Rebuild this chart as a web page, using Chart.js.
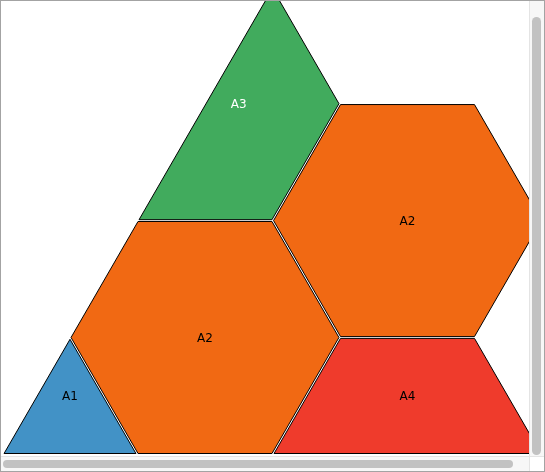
<!DOCTYPE html>
<html>
<head>
<meta charset="utf-8">
<script src="https://cdn.jsdelivr.net/npm/chart.js@4/dist/chart.umd.min.js"></script>
<style>
html, body { margin: 0; padding: 0; background: #fff; }
#frame { position: relative; width: 545px; height: 472px; box-sizing: border-box; border: 1px solid #a3a3a3; overflow: hidden; }
#plot { position: absolute; left: 0; top: 0; width: 528px; height: 455px; }
.vbar { position: absolute; left: 528px; top: 0; width: 15px; height: 455px; background: #f7f7f7; border-left: 1px solid #e4e4e4; box-sizing: border-box; }
.vthumb { position: absolute; left: 2px; top: 16px; width: 9px; height: 438px; border-radius: 5px; background: #c2c2c2; }
.hbar { position: absolute; left: 0; top: 455px; width: 528px; height: 15px; background: #f7f7f7; border-top: 1px solid #e4e4e4; box-sizing: border-box; }
.hthumb { position: absolute; left: 2px; top: 3px; width: 510px; height: 8px; border-radius: 4px; background: #c2c2c2; }
.corner { position: absolute; left: 528px; top: 455px; width: 15px; height: 15px; background: #fff; border-left: 1px solid #e4e4e4; border-top: 1px solid #e4e4e4; box-sizing: border-box; }
</style>
</head>
<body>
<div id="frame">
  <canvas id="plot" width="528" height="455"></canvas>
  <div class="vbar"><div class="vthumb"></div></div>
  <div class="hbar"><div class="hthumb"></div></div>
  <div class="corner"></div>
</div>
<script>
// categories of the hex cells
var categories = ['A1', 'A2', 'A3', 'A4'];
var categoryColors = ['#4292c6', '#f16913', '#41ab5d', '#ef3b2c'];
var labelColors = ['#000000', '#000000', '#ffffff', '#000000'];

// visible cells: category, hex column and half-row in the grid
var cellCategory = ['A1', 'A2', 'A2', 'A3', 'A4'];
var cellCol = [0, 1, 2, 1, 2];
var cellRow = [0, 1, 2, 3, 0];

// ternary triangle side, in hex sides
var triangleSide = 6;

var R3 = Math.sqrt(3);
var pxPerUnit = 135;
var gap = 0.9 / pxPerUnit; // small inset so neighbouring outlines stay apart

function hexagon(cx, cy) {
  var pts = [];
  for (var i = 0; i < 6; i++) {
    var a = Math.PI / 3 * i;
    pts.push({x: cx + Math.cos(a), y: cy + Math.sin(a)});
  }
  return pts;
}

function side(a, b, p) {
  return (b.x - a.x) * (p.y - a.y) - (b.y - a.y) * (p.x - a.x);
}

// keep the part of poly left of a->b
function clipEdge(poly, a, b) {
  var out = [];
  for (var i = 0; i < poly.length; i++) {
    var p = poly[i], q = poly[(i + 1) % poly.length];
    var sp = side(a, b, p), sq = side(a, b, q);
    if (Math.abs(sp) < 1e-9) sp = 0;
    if (Math.abs(sq) < 1e-9) sq = 0;
    if (sp >= 0) out.push(p);
    if ((sp > 0 && sq < 0) || (sp < 0 && sq > 0)) {
      var t = sp / (sp - sq);
      out.push({x: p.x + t * (q.x - p.x), y: p.y + t * (q.y - p.y)});
    }
  }
  return out;
}

// move every edge of a ccw convex polygon inwards by d
function inset(poly, d) {
  var pts = poly.filter(function (p, i) {
    var q = poly[(i + 1) % poly.length];
    return Math.hypot(q.x - p.x, q.y - p.y) > 1e-6;
  });
  var lines = pts.map(function (p, i) {
    var q = pts[(i + 1) % pts.length];
    var len = Math.hypot(q.x - p.x, q.y - p.y);
    var nx = -(q.y - p.y) / len, ny = (q.x - p.x) / len;
    return {x: p.x + nx * d, y: p.y + ny * d, dx: q.x - p.x, dy: q.y - p.y};
  });
  return lines.map(function (l1, i) {
    var l0 = lines[(i - 1 + lines.length) % lines.length];
    var den = l0.dx * l1.dy - l0.dy * l1.dx;
    var t = ((l1.x - l0.x) * l1.dy - (l1.y - l0.y) * l1.dx) / den;
    return {x: l0.x + t * l0.dx, y: l0.y + t * l0.dy};
  });
}

var tri = [{x: 0, y: 0}, {x: triangleSide, y: 0}, {x: triangleSide / 2, y: triangleSide * R3 / 2}];

function cellPolygon(i) {
  var poly = hexagon(1.5 * cellCol[i], R3 / 2 * cellRow[i]);
  for (var k = 0; k < 3; k++) poly = clipEdge(poly, tri[k], tri[(k + 1) % 3]);
  return poly;
}

var polygons = cellCategory.map(function (c, i) { return cellPolygon(i); });

var datasets = polygons.map(function (poly, i) {
  var ci = categories.indexOf(cellCategory[i]);
  var shape = inset(poly, gap);
  return {
    label: cellCategory[i],
    data: shape.concat([shape[0]]),
    showLine: true,
    fill: 'shape',
    backgroundColor: categoryColors[ci],
    borderColor: '#000000',
    borderWidth: 1,
    borderJoinStyle: 'miter',
    pointRadius: 0,
    tension: 0
  };
});

var cellLabels = {
  id: 'cellLabels',
  afterDatasetsDraw: function (chart) {
    var ctx = chart.ctx;
    var xs = chart.scales.x, ys = chart.scales.y;
    ctx.save();
    ctx.font = '12px "DejaVu Sans", sans-serif';
    ctx.textAlign = 'center';
    ctx.textBaseline = 'middle';
    polygons.forEach(function (poly, i) {
      var minX = Infinity, maxX = -Infinity, minY = Infinity, maxY = -Infinity;
      poly.forEach(function (p) {
        minX = Math.min(minX, p.x); maxX = Math.max(maxX, p.x);
        minY = Math.min(minY, p.y); maxY = Math.max(maxY, p.y);
      });
      var ci = categories.indexOf(cellCategory[i]);
      ctx.fillStyle = labelColors[ci];
      ctx.fillText(cellCategory[i], xs.getPixelForValue((minX + maxX) / 2), ys.getPixelForValue((minY + maxY) / 2) + 1);
    });
    ctx.restore();
  }
};

var xMin = -1.5 / pxPerUnit;
var yMin = -1.6 / pxPerUnit;

var ctx = document.getElementById('plot').getContext('2d');
var chart = new Chart(ctx, {
  type: 'scatter',
  data: { datasets: datasets },
  options: {
    responsive: false,
    animation: false,
    events: [],
    layout: { padding: 0 },
    plugins: { legend: { display: false }, tooltip: { enabled: false } },
    scales: {
      x: { type: 'linear', display: false, min: xMin, max: xMin + 528 / pxPerUnit },
      y: { type: 'linear', display: false, min: yMin, max: yMin + 455 / pxPerUnit }
    }
  },
  plugins: [cellLabels]
});
</script>
</body>
</html>
